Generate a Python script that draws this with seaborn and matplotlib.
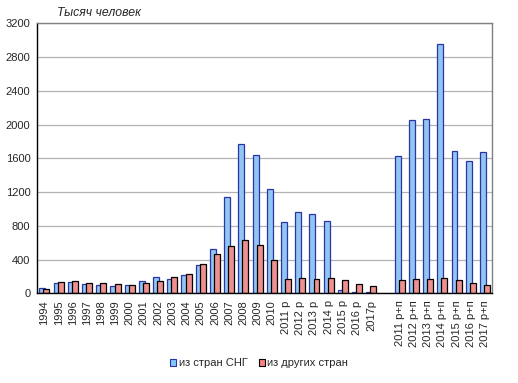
import numpy as np
import pandas as pd
import seaborn as sns
import matplotlib.pyplot as plt
from matplotlib.patches import Patch

categories = ['1994', '1995', '1996', '1997', '1998', '1999', '2000', '2001',
              '2002', '2003', '2004', '2005', '2006', '2007', '2008', '2009',
              '2010', '2011 р', '2012 р', '2013 р', '2014 р', '2015 р',
              '2016 р', '2017р', ' ',
              '2011 р+п', '2012 р+п', '2013 р+п', '2014 р+п', '2015 р+п',
              '2016 р+п', '2017 р+п']
cis = [67, 127, 139, 115, 103, 91, 103, 150, 198, 174, 222, 341, 531, 1147,
       1773, 1643, 1241, 851, 969, 946, 863, 35, 22, 22, np.nan,
       1632, 2060, 2072, 2950, 1688, 1569, 1676]
other = [55, 139, 150, 127, 127, 115, 103, 127, 150, 198, 234, 352, 472, 567,
         638, 579, 390, 165, 177, 165, 177, 155, 115, 92, np.nan,
         158, 170, 170, 182, 158, 123, 99]
series = ['из стран СНГ', 'из других стран']

df = pd.DataFrame({
    'year': categories * 2,
    'value': cis + other,
    'series': [series[0]] * len(categories) + [series[1]] * len(categories),
})

sns.set_style('white')
plt.rcParams['font.family'] = ['Liberation Sans', 'DejaVu Sans']

fig = plt.figure(figsize=(5.18, 3.83), dpi=100)
ax = fig.add_axes([0.072, 0.234, 0.878, 0.705])

fills = ['#80C8FF', '#FF8080']
edges = ['#2B35A8', '#000000']

sns.barplot(data=df, x='year', y='value', hue='series', order=categories,
            hue_order=series, palette=fills, width=0.58, legend=False,
            errorbar=None, ax=ax)

# widen bars so the pairs overlap like the Excel original
for cont, ec in zip(ax.containers, edges):
    for bar in cont:
        cx = bar.get_x() + bar.get_width() / 2
        bar.set_width(0.42)
        bar.set_x(cx - 0.21)
        bar.set_edgecolor(ec)
        bar.set_linewidth(0.9)

ax.set_xlim(-0.5, len(categories) - 0.5)
ax.set_ylim(0, 3200)
ax.set_yticks(range(0, 3201, 400))
ax.yaxis.grid(True, color='#B4B4B4', linewidth=0.9)
ax.set_axisbelow(True)
ax.set_xlabel('')
ax.set_ylabel('')
ax.tick_params(axis='both', length=0, labelsize=8)
ax.tick_params(axis='x', pad=5)
ax.tick_params(axis='y', pad=5)
ax.set_xticks(range(len(categories)))
ax.set_xticklabels(categories, rotation=90)

for side in ['left', 'bottom']:
    ax.spines[side].set_color('black')
    ax.spines[side].set_linewidth(1.0)
for side in ['top', 'right']:
    ax.spines[side].set_color('#808080')
    ax.spines[side].set_linewidth(1.0)

fig.text(0.11, 0.965, 'Тысяч человек', fontsize=8.8, style='italic',
         ha='left', va='center')

handles = [Patch(facecolor=f, edgecolor=e, linewidth=0.8)
           for f, e in zip(fills, edges)]
fig.legend(handles, series, loc='center', bbox_to_anchor=(0.5, 0.052),
           ncol=2, frameon=False, fontsize=8, handlelength=0.6,
           handleheight=0.6, handletextpad=0.2, columnspacing=1.0)

fig.savefig('out.png', dpi=100)
